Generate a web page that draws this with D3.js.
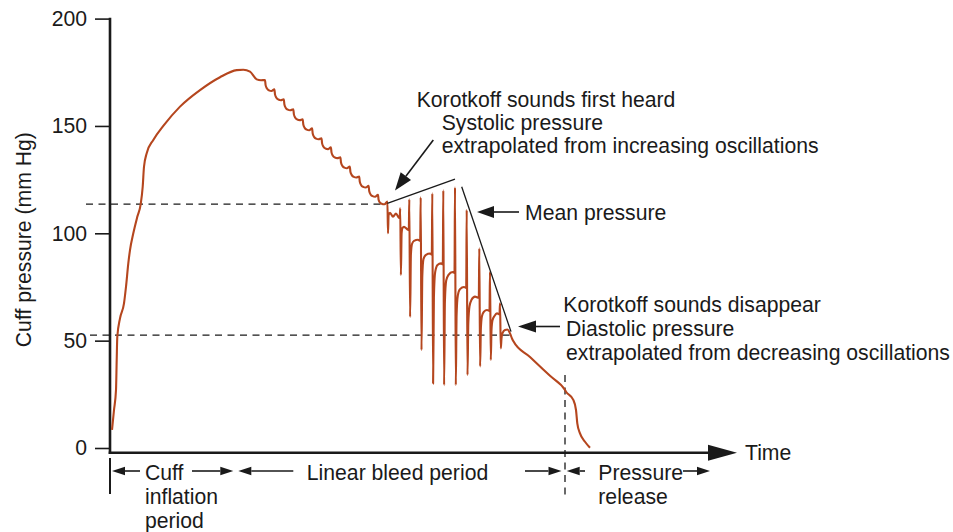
<!DOCTYPE html>
<html>
<head>
<meta charset="utf-8">
<script src="https://cdn.jsdelivr.net/npm/d3@7"></script>
<style>
  html, body { margin: 0; padding: 0; background: #ffffff; }
  svg { display: block; }
  text { font-family: "Liberation Sans", Arial, Helvetica, sans-serif; font-size: 21.2px; fill: #1a1a1a; }
</style>
</head>
<body>
<svg id="chart" width="953" height="532"></svg>
<script>
// ---- data: cuff pressure (mm Hg) against time (s) ----
const yTicks = [0, 50, 100, 150, 200];
const yLabel = "Cuff pressure (mm Hg)";
const xLabel = "Time";

// cuff inflation up to the occluding pressure
const inflation = [
  [0.2, 8.4], [0.4, 17.7], [0.6, 27.0], [0.67, 41.0], [0.73, 51.8], [1.0, 60.4],
  [1.4, 67.4], [1.6, 75.1], [1.83, 86.0], [2.0, 92.2], [2.33, 100.0], [2.73, 107.7],
  [3.07, 113.6], [3.27, 121.7], [3.4, 131.0], [3.67, 137.3], [4.33, 143.5], [5.33, 150.0],
  [7.0, 159.0], [9.0, 166.7], [11.0, 172.7], [12.67, 176.0], [13.33, 176.2], [14.0, 175.3],
  [14.67, 171.7], [15.1, 171.3]
];

// linear bleed above systolic: small pulse ripples on the falling pressure
const bleedRipples = [
  [15.5, 171.4], [15.56, 169.0], [15.7, 167.4], [15.9, 166.6], [16.15, 166.3],
  [16.44, 167.1], [16.5, 164.7], [16.64, 163.1], [16.84, 162.3], [17.09, 162.0],
  [17.38, 162.4], [17.44, 160.0], [17.58, 158.4], [17.78, 157.6], [18.03, 157.3],
  [18.33, 157.8], [18.39, 155.4], [18.53, 153.8], [18.73, 153.0], [18.98, 152.7],
  [19.27, 153.1], [19.33, 150.7], [19.47, 149.1], [19.67, 148.3], [19.92, 148.0],
  [20.21, 148.9], [20.27, 146.5], [20.41, 144.9], [20.61, 144.1], [20.86, 143.8],
  [21.15, 144.3], [21.21, 141.9], [21.35, 140.3], [21.55, 139.5], [21.8, 139.2],
  [22.09, 140.1], [22.15, 137.7], [22.29, 136.1], [22.49, 135.3], [22.74, 135.0],
  [23.04, 135.4], [23.1, 133.0], [23.24, 131.4], [23.44, 130.6], [23.69, 130.3],
  [23.98, 131.1], [24.04, 128.7], [24.18, 127.1], [24.38, 126.3], [24.63, 126.0],
  [24.92, 126.4], [24.98, 124.0], [25.12, 122.4], [25.32, 121.6], [25.57, 121.3],
  [25.86, 122.1], [25.92, 119.7], [26.06, 118.1], [26.26, 117.3], [26.51, 117.0],
  [26.8, 117.9], [26.86, 115.6], [27.0, 114.3], [27.2, 113.7], [27.45, 113.5]
];

// oscillations between systolic and diastolic pressure
const oscillations = [
  [27.74, 114.8], [27.8, 100.0], [27.86, 108.5], [28.0, 109.5], [28.3, 107.7], [28.6, 109.2], [28.85, 107.5], [28.97, 107.0],
  [29.02, 111.6], [29.09, 80.6], [29.16, 100.0], [29.25, 102.5], [29.4, 103.0], [29.7, 102.0], [29.88, 101.5],
  [29.93, 115.8], [30.01, 61.0], [30.09, 90.0], [30.2, 95.0], [30.4, 96.5], [30.8, 97.0], [31.02, 96.5],
  [31.07, 116.8], [31.15, 45.6], [31.23, 80.0], [31.35, 88.0], [31.6, 90.0], [32.0, 90.6], [32.18, 90.0],
  [32.23, 118.6], [32.31, 30.0], [32.39, 70.0], [32.52, 82.0], [32.75, 85.2], [33.1, 86.0], [33.28, 85.5],
  [33.33, 120.0], [33.41, 29.3], [33.49, 68.0], [33.62, 78.0], [33.85, 80.6], [34.25, 82.0], [34.45, 81.5],
  [34.5, 121.4], [34.58, 29.3], [34.66, 62.0], [34.78, 71.0], [35.0, 74.0], [35.4, 75.0], [35.62, 74.5],
  [35.67, 110.9], [35.75, 34.0], [35.83, 58.0], [35.95, 66.0], [36.15, 69.0], [36.5, 70.5], [36.88, 70.0],
  [36.93, 93.0], [37.01, 38.0], [37.09, 56.0], [37.2, 61.5], [37.4, 63.5], [37.7, 64.3], [37.95, 63.8],
  [38.0, 82.0], [38.08, 41.0], [38.15, 55.0], [38.25, 59.5], [38.45, 61.5], [38.7, 62.7], [38.95, 62.2],
  [39.0, 67.4], [39.08, 46.4], [39.15, 51.0], [39.25, 53.5], [39.5, 55.0], [39.75, 55.2], [40.0, 53.4], [40.2, 51.0], [40.33, 49.8]
];

// bleed below diastolic, then rapid release of the cuff
const bleedTail = [[42.0, 42.4], [44.0, 33.6], [45.5, 27.0]];
const release = [[45.6, 26.2], [46.33, 22.4], [46.6, 17.7], [46.73, 11.5], [47.0, 6.8], [47.5, 2.9], [48.0, 0.1]];

// reference levels and extrapolation envelopes
const systolicPressure = 113.6;
const diastolicPressure = 52.6;
const risingEnvelope = [[27.73, 113.9], [34.5, 125.2]];
const fallingEnvelope = [[35.17, 121.7], [40.1, 54.2]];

// measurement phases (start/end times, s)
const phaseBounds = [0, 12.58, 45.5, 60.0];
const phaseLabels = [["Cuff", "inflation", "period"], ["Linear bleed period"], ["Pressure", "release"]];

const noteSystolic = ["Korotkoff sounds first heard", "Systolic pressure", "extrapolated from increasing oscillations"];
const noteMean = ["Mean pressure"];
const noteDiastolic = ["Korotkoff sounds disappear", "Diastolic pressure", "extrapolated from decreasing oscillations"];

// ---- drawing ----
const svg = d3.select("#chart");
const ink = "#1a1a1a";
const traceColor = "#b5461e";

const x = d3.scaleLinear().domain([0, 62.7]).range([110, 737]);
const y = d3.scaleLinear().domain([0, 200]).range([448, 18.6]);
const baseY = 452.7;   // time axis runs just under the zero tick

function arrow(g, x1, y1, x2, y2, len, half, sw) {
  const a = Math.atan2(y2 - y1, x2 - x1);
  const bx = x2 - len * Math.cos(a), by = y2 - len * Math.sin(a);
  g.append("line")
    .attr("x1", x1).attr("y1", y1).attr("x2", bx).attr("y2", by)
    .attr("stroke", ink).attr("stroke-width", sw);
  const s = Math.sin(a), c = Math.cos(a);
  g.append("path")
    .attr("d", `M${x2},${y2}L${bx + half * s},${by - half * c}L${bx - half * s},${by + half * c}Z`)
    .attr("fill", ink);
}

function lines(g, rows, x0, y0, step, dxRest) {
  rows.forEach((t, i) => {
    g.append("text")
      .attr("x", x0 + (i > 0 ? (dxRest || 0) : 0))
      .attr("y", y0 + i * step)
      .text(t);
  });
}

// y axis
const gy = svg.append("g").attr("transform", "translate(110,0)")
  .call(d3.axisLeft(y).tickValues(yTicks).tickSize(15).tickPadding(8).tickFormat(d3.format("d")));
gy.select(".domain").remove();
gy.attr("font-size", null).attr("font-family", null);
gy.selectAll(".tick line").attr("stroke", ink).attr("stroke-width", 1.6);

svg.append("line")
  .attr("x1", 110).attr("x2", 110).attr("y1", y(200) - 0.8).attr("y2", baseY + 1.3)
  .attr("stroke", ink).attr("stroke-width", 2.6);

svg.append("text")
  .attr("transform", `translate(31,${(y(200) + baseY) / 2 + 4}) rotate(-90)`)
  .attr("text-anchor", "middle")
  .text(yLabel);

// time axis with arrow head
const axisG = svg.append("g");
arrow(axisG, 108.7, baseY, x(62.7), baseY, 29, 8, 2.6);
svg.append("text").attr("x", 745).attr("y", 459.5).text(xLabel);

// dashed reference levels
const dash = svg.append("g").attr("stroke", ink).attr("stroke-width", 1.3).attr("stroke-dasharray", "7,5.5").attr("fill", "none");
dash.append("line").attr("x1", 86).attr("x2", x(27.6)).attr("y1", y(systolicPressure)).attr("y2", y(systolicPressure));
dash.append("line").attr("x1", 90).attr("x2", x(40.3)).attr("y1", y(diastolicPressure)).attr("y2", y(diastolicPressure));
dash.append("line").attr("x1", x(phaseBounds[2])).attr("x2", x(phaseBounds[2])).attr("y1", y(34)).attr("y2", 496);

// pressure trace
const trace = [].concat(inflation, bleedRipples, oscillations, bleedTail, release);
svg.append("path")
  .datum(trace)
  .attr("d", d3.line().x(d => x(d[0])).y(d => y(d[1])).curve(d3.curveMonotoneX))
  .attr("fill", "none")
  .attr("stroke", traceColor)
  .attr("stroke-width", 2.1)
  .attr("stroke-linejoin", "round");

// extrapolation envelopes
const env = d3.line().x(d => x(d[0])).y(d => y(d[1]));
svg.append("path").datum(risingEnvelope).attr("d", env).attr("stroke", ink).attr("stroke-width", 1.3).attr("fill", "none");
svg.append("path").datum(fallingEnvelope).attr("d", env).attr("stroke", ink).attr("stroke-width", 1.3).attr("fill", "none");

// annotations
const notes = svg.append("g");
lines(notes, noteSystolic, 416.7, 106.5, 23, 25);
arrow(notes, 433.3, 140, 395, 190.5, 18, 6.5, 1.6);
lines(notes, noteMean, 525, 219.5, 0, 0);
arrow(notes, 519, 212, 477, 212, 17, 6, 1.6);
lines(notes, noteDiastolic, 563.3, 311.5, 24, 2.7);
arrow(notes, 560, 326.5, 518, 326.5, 18, 6, 1.6);

// phase markers under the time axis
const ph = svg.append("g");
const rowY = 471;
const p0 = x(phaseBounds[0]), p1 = x(phaseBounds[1]), p2 = x(phaseBounds[2]), p3 = x(phaseBounds[3]);
ph.append("line").attr("x1", p0).attr("x2", p0).attr("y1", 458).attr("y2", 494).attr("stroke", ink).attr("stroke-width", 2);
arrow(ph, p0 + 30, rowY, p0 + 2, rowY, 13, 4.2, 1.6);
lines(ph, phaseLabels[0], p0 + 35, 480, 24, 0);
arrow(ph, p0 + 82, rowY, p1 - 2.5, rowY, 13, 4.2, 1.6);

arrow(ph, p1 + 57.5, rowY, p1 + 2.5, rowY, 13, 4.2, 1.6);
lines(ph, phaseLabels[1], p1 + 71, 480, 24, 0);
arrow(ph, p2 - 40, rowY, p2 - 3.5, rowY, 13, 4.2, 1.6);

arrow(ph, p2 + 20, rowY, p2 + 1.7, rowY, 13, 4.2, 1.6);
lines(ph, phaseLabels[2], p2 + 33.3, 480, 24, 0);
arrow(ph, p2 + 118, rowY, p3, rowY, 13, 4.2, 1.6);
</script>
</body>
</html>
